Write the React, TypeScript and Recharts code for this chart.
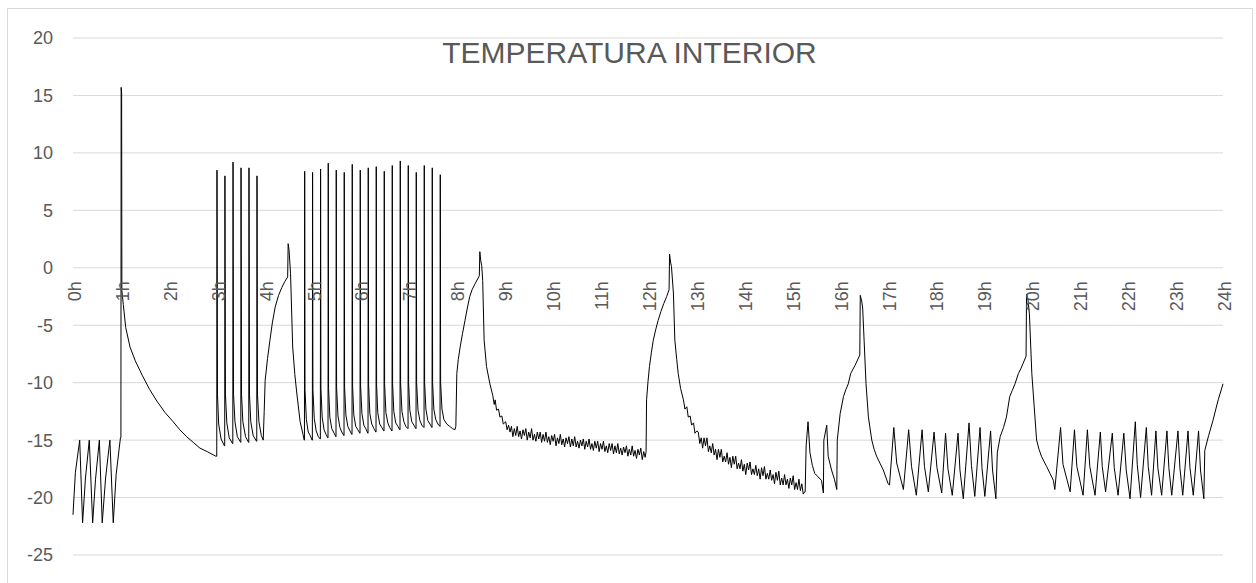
import { LineChart, Line, CartesianGrid, XAxis, YAxis } from "recharts";

type Pt = [number, number];

// hours of the day, value in °C
const nightCycles: Pt[] = [
  [0.0, -21.5], [0.05, -17.8], [0.14, -15.0], [0.2, -22.2], [0.26, -18.3], [0.34, -15.0],
  [0.41, -22.2], [0.47, -18.4], [0.55, -15.0], [0.61, -22.2], [0.68, -18.3], [0.77, -15.0],
  [0.84, -22.2], [0.9, -18.0], [0.99, -14.8],
];

const morningPeak: Pt[] = [
  [1.0, -14.8], [1.005, 15.7], [1.015, 15.2], [1.02, -2.0], [1.05, -3.2], [1.1, -5.2],
  [1.19, -6.9], [1.3, -8.1], [1.45, -9.4], [1.6, -10.6], [1.75, -11.6], [1.92, -12.6],
  [2.09, -13.4], [2.23, -14.1], [2.37, -14.7], [2.51, -15.2], [2.65, -15.7], [2.8, -16.0],
  [2.98, -16.4],
];

const firstBurst: Pt[] = [
  [3.0, -16.4], [3.005, 8.5], [3.015, -11.0], [3.04, -13.6], [3.09, -14.9], [3.16, -15.5],
  [3.166, -15.5], [3.171, 8.0], [3.181, -11.0], [3.21, -13.5], [3.26, -14.8], [3.33, -15.3],
  [3.335, -15.3], [3.34, 9.2], [3.35, -11.0], [3.38, -13.4], [3.43, -14.7], [3.5, -15.2],
  [3.502, -15.2], [3.507, 8.7], [3.517, -11.0], [3.545, -13.4], [3.6, -14.7], [3.665, -15.2],
  [3.668, -15.2], [3.673, 8.7], [3.683, -11.0], [3.71, -13.4], [3.76, -14.6], [3.83, -15.1],
  [3.835, -15.1], [3.84, 8.0], [3.85, -11.0], [3.88, -13.4], [3.93, -14.6], [3.97, -15.0],
];

const fourOClockPeak: Pt[] = [
  [3.99, -12.5], [4.01, -9.8], [4.06, -7.9], [4.11, -6.3], [4.16, -4.8], [4.22, -3.4],
  [4.29, -2.4], [4.36, -1.7], [4.42, -1.2], [4.48, -0.8], [4.49, 2.1], [4.51, 1.5],
  [4.54, -0.5], [4.585, -6.9], [4.63, -9.3], [4.67, -10.9], [4.74, -13.4], [4.8, -14.5],
  [4.825, -15.0],
];

const secondBurst: Pt[] = [
  [4.83, -15.0], [4.835, 8.4], [4.842, -10.6], [4.87, -13.2], [4.91, -14.3], [4.95, -14.6], [4.99, -15.0],
  [4.995, -15.0], [5.0, 8.3], [5.007, -10.6], [5.035, -13.1], [5.075, -14.2], [5.12, -14.7], [5.158, -14.9],
  [5.162, -14.9], [5.167, 8.6], [5.174, -10.5], [5.2, -13.0], [5.24, -14.1], [5.28, -14.5], [5.318, -14.8],
  [5.322, -14.8], [5.327, 9.1], [5.334, -10.5], [5.36, -13.0], [5.4, -14.0], [5.45, -14.4], [5.485, -14.7],
  [5.489, -14.7], [5.494, 8.5], [5.501, -10.4], [5.53, -12.9], [5.57, -13.9], [5.61, -14.3], [5.652, -14.6],
  [5.656, -14.6], [5.661, 8.3], [5.668, -10.4], [5.695, -12.8], [5.735, -13.8], [5.78, -14.2], [5.819, -14.5],
  [5.823, -14.5], [5.828, 9.0], [5.835, -10.3], [5.86, -12.8], [5.9, -13.8], [5.945, -14.1], [5.986, -14.4],
  [5.99, -14.4], [5.995, 8.5], [6.002, -10.3], [6.03, -12.7], [6.07, -13.7], [6.11, -14.0], [6.153, -14.4],
  [6.157, -14.4], [6.162, 8.7], [6.169, -10.2], [6.195, -12.7], [6.235, -13.6], [6.28, -14.0], [6.32, -14.3],
  [6.324, -14.3], [6.329, 8.8], [6.336, -10.2], [6.36, -12.6], [6.4, -13.6], [6.445, -13.9], [6.487, -14.2],
  [6.491, -14.2], [6.496, 8.4], [6.503, -10.1], [6.53, -12.6], [6.57, -13.5], [6.61, -13.9], [6.654, -14.2],
  [6.658, -14.2], [6.663, 8.9], [6.67, -10.1], [6.695, -12.5], [6.735, -13.5], [6.78, -13.8], [6.821, -14.1],
  [6.825, -14.1], [6.83, 9.3], [6.837, -10.0], [6.865, -12.5], [6.905, -13.4], [6.945, -13.8], [6.988, -14.0],
  [6.992, -14.0], [6.997, 8.9], [7.004, -10.0], [7.03, -12.4], [7.07, -13.4], [7.115, -13.7], [7.155, -14.0],
  [7.159, -14.0], [7.164, 8.3], [7.171, -10.0], [7.2, -12.4], [7.24, -13.3], [7.28, -13.7], [7.322, -13.9],
  [7.326, -13.9], [7.331, 8.9], [7.338, -10.0], [7.365, -12.3], [7.405, -13.3], [7.45, -13.6], [7.489, -13.9],
  [7.493, -13.9], [7.498, 8.7], [7.505, -10.0], [7.53, -12.3], [7.57, -13.2], [7.615, -13.6], [7.656, -13.8],
  [7.66, -13.8], [7.665, 8.1], [7.672, -10.0], [7.7, -12.3], [7.74, -13.2], [7.8, -13.6], [7.86, -13.8],
  [7.92, -14.0], [7.97, -14.1],
];

const eightOClockPeak: Pt[] = [
  [7.99, -13.8], [8.01, -9.2], [8.04, -8.0], [8.08, -6.9], [8.13, -5.7], [8.18, -4.6],
  [8.23, -3.5], [8.28, -2.5], [8.33, -1.9], [8.39, -1.4], [8.48, -0.7], [8.49, 1.4],
  [8.51, 0.6], [8.53, 0.2], [8.55, -1.1], [8.58, -6.3], [8.63, -8.6], [8.7, -10.1],
  [8.76, -11.1], [8.79, -11.9], [8.81, -11.5], [8.84, -12.4], [8.88, -12.3], [8.91, -13.0],
  [8.95, -12.9], [8.98, -13.6], [9.03, -13.4], [9.06, -14.1], [9.09, -13.7], [9.12, -14.3],
];

const morningNoise: Pt[] = [
  [9.15, -13.8], [9.18, -14.7], [9.21, -14.0], [9.24, -14.6], [9.27, -13.8], [9.3, -14.7],
  [9.33, -14.2], [9.36, -14.9], [9.39, -14.1], [9.42, -14.6], [9.45, -14.0], [9.48, -15.0],
  [9.51, -14.3], [9.54, -14.8], [9.57, -14.0], [9.6, -15.0], [9.63, -14.5], [9.66, -15.1],
  [9.69, -14.3], [9.72, -14.9], [9.75, -14.3], [9.78, -15.2], [9.81, -14.5], [9.84, -15.1],
  [9.87, -14.3], [9.9, -15.2], [9.93, -14.7], [9.96, -15.4], [9.99, -14.6], [10.02, -15.1],
  [10.05, -14.5], [10.08, -15.5], [10.11, -14.8], [10.14, -15.3], [10.17, -14.5], [10.2, -15.4],
  [10.23, -14.9], [10.26, -15.6], [10.29, -14.8], [10.32, -15.3], [10.35, -14.7], [10.38, -15.6],
  [10.41, -14.9], [10.44, -15.5], [10.47, -14.7], [10.5, -15.6], [10.53, -15.1], [10.56, -15.7],
  [10.59, -15.0], [10.62, -15.5], [10.65, -14.9], [10.68, -15.8], [10.71, -15.1], [10.74, -15.6],
  [10.77, -14.9], [10.8, -15.8], [10.83, -15.3], [10.86, -15.9], [10.89, -15.1], [10.92, -15.7],
  [10.95, -15.1], [10.98, -16.0], [11.01, -15.3], [11.04, -15.8], [11.07, -15.1], [11.1, -16.0],
  [11.13, -15.5], [11.16, -16.1], [11.19, -15.3], [11.22, -15.9], [11.25, -15.3], [11.28, -16.2],
  [11.31, -15.5], [11.34, -16.1], [11.37, -15.3], [11.4, -16.2], [11.43, -15.7], [11.46, -16.3],
  [11.49, -15.6], [11.52, -16.1], [11.55, -15.5], [11.58, -16.4], [11.61, -15.8], [11.64, -16.3],
  [11.67, -15.5], [11.7, -16.4], [11.73, -15.9], [11.76, -16.6], [11.79, -15.8], [11.82, -16.3],
  [11.85, -15.7], [11.88, -16.7], [11.91, -16.0], [11.94, -16.5],
];

const noonPeak: Pt[] = [
  [11.96, -16.0], [11.97, -11.5], [12.0, -9.9], [12.03, -8.6], [12.07, -7.4], [12.11, -6.3],
  [12.16, -5.4], [12.21, -4.6], [12.27, -3.8], [12.33, -3.1], [12.39, -2.5], [12.44, -1.9],
  [12.45, 1.2], [12.47, 0.5], [12.49, 0.1], [12.53, -2.2], [12.56, -6.3], [12.6, -8.0],
  [12.63, -9.2], [12.68, -10.5], [12.74, -11.5], [12.77, -12.3], [12.81, -12.1], [12.84, -13.0],
  [12.88, -12.9], [12.91, -13.7], [12.95, -13.5], [12.98, -14.4], [13.02, -14.2],
];

const afternoonNoise: Pt[] = [
  [13.05, -14.3], [13.08, -15.3], [13.11, -14.8], [13.14, -15.7], [13.17, -14.8], [13.2, -15.5],
  [13.23, -14.8], [13.26, -16.0], [13.29, -15.5], [13.32, -16.1], [13.35, -15.3], [13.38, -16.3],
  [13.41, -15.8], [13.44, -16.7], [13.47, -15.8], [13.5, -16.5], [13.53, -15.8], [13.56, -16.9],
  [13.59, -16.4], [13.62, -16.9], [13.65, -16.1], [13.68, -17.1], [13.71, -16.5], [13.74, -17.4],
  [13.77, -16.4], [13.8, -17.1], [13.83, -16.4], [13.86, -17.5], [13.89, -17.0], [13.92, -17.5],
  [13.95, -16.7], [13.98, -17.7], [14.01, -17.1], [14.04, -18.0], [14.07, -17.0], [14.1, -17.6],
  [14.13, -16.9], [14.16, -18.0], [14.19, -17.5], [14.22, -18.0], [14.25, -17.2], [14.28, -18.1],
  [14.31, -17.5], [14.34, -18.4], [14.37, -17.4], [14.4, -18.1], [14.43, -17.3], [14.46, -18.4],
  [14.49, -17.9], [14.52, -18.4], [14.55, -17.6], [14.58, -18.5], [14.61, -18.0], [14.64, -18.8],
  [14.67, -17.8], [14.7, -18.5], [14.73, -17.7], [14.76, -18.9], [14.79, -18.3], [14.82, -18.9],
  [14.85, -18.0], [14.88, -18.9], [14.91, -18.4], [14.94, -19.2], [14.97, -18.3], [15.0, -18.9],
  [15.03, -18.1], [15.06, -19.3], [15.09, -18.7], [15.12, -19.3], [15.15, -18.4], [15.18, -19.4],
  [15.21, -18.8], [15.24, -19.7], [15.27, -19.5],
];

const afternoonCycles: Pt[] = [
  [15.28, -19.5], [15.3, -15.5], [15.34, -13.4], [15.38, -16.1], [15.43, -17.2], [15.48, -17.9],
  [15.55, -18.2], [15.62, -18.5], [15.66, -19.6], [15.67, -15.0], [15.73, -13.7], [15.76, -16.4],
  [15.83, -17.6], [15.89, -18.4], [15.94, -19.3], [15.95, -15.0], [16.01, -12.7], [16.08, -11.2],
  [16.13, -10.6], [16.18, -10.1], [16.23, -9.2], [16.32, -8.5], [16.42, -7.6], [16.43, -2.4],
  [16.46, -2.9], [16.48, -3.5], [16.51, -6.3], [16.55, -10.1], [16.6, -13.0], [16.67, -15.0],
  [16.72, -15.8], [16.77, -16.4], [16.84, -17.0], [16.91, -17.6], [16.97, -18.3], [17.01, -18.8],
];

const eveningCycles: Pt[] = [
  [17.04, -18.9], [17.13, -13.9], [17.19, -17.0], [17.33, -19.3], [17.44, -14.1], [17.5, -17.3],
  [17.6, -19.8], [17.72, -14.1], [17.77, -17.3], [17.85, -19.5], [17.97, -14.3], [18.03, -17.4],
  [18.13, -19.6], [18.21, -14.4], [18.26, -17.5], [18.35, -19.8], [18.47, -14.4], [18.51, -17.6],
  [18.58, -20.1], [18.7, -13.5], [18.75, -17.2], [18.82, -19.9], [18.93, -13.9], [18.97, -17.4],
  [19.03, -19.9], [19.15, -14.2], [19.19, -17.6], [19.26, -20.1],
];

const eveningPeak: Pt[] = [
  [19.29, -16.1], [19.35, -14.7], [19.42, -13.9], [19.48, -13.0], [19.55, -11.2], [19.6, -10.7],
  [19.66, -10.1], [19.73, -9.2], [19.78, -8.8], [19.83, -8.3], [19.89, -7.7], [19.9, -2.3],
  [19.93, -2.8], [19.96, -4.0], [20.01, -9.2], [20.06, -12.1], [20.11, -15.0], [20.16, -15.8],
  [20.21, -16.4], [20.27, -16.9], [20.32, -17.3], [20.39, -17.9], [20.46, -18.5],
];

const lateCycles: Pt[] = [
  [20.49, -19.3], [20.61, -13.9], [20.66, -17.1], [20.81, -19.5], [20.9, -14.1], [20.95, -17.3],
  [21.08, -19.8], [21.17, -14.1], [21.22, -17.3], [21.33, -19.8], [21.44, -14.3], [21.48, -17.3],
  [21.55, -19.5], [21.69, -14.4], [21.73, -17.4], [21.81, -19.8], [21.93, -14.4], [21.98, -17.6],
  [22.06, -20.1], [22.17, -13.4], [22.21, -17.1], [22.28, -20.0], [22.4, -13.9], [22.44, -17.3],
  [22.51, -19.8], [22.6, -14.2], [22.64, -17.4], [22.72, -19.8], [22.83, -14.2], [22.87, -17.4],
  [22.93, -19.8], [23.06, -14.2], [23.1, -17.4], [23.16, -19.8], [23.27, -14.2], [23.31, -17.4],
  [23.38, -19.8], [23.49, -14.2], [23.53, -17.6], [23.6, -20.1], [23.62, -15.9], [23.7, -14.6],
  [23.79, -13.3], [23.85, -12.3], [23.9, -11.5], [24.0, -10.1],
];

const hourTicks = [0, 1, 2, 3, 4, 5, 6, 7, 8, 9, 10, 11, 12, 13, 14, 15, 16, 17, 18, 19, 20, 21, 22, 23, 24];
const tempTicks = [-25, -20, -15, -10, -5, 0, 5, 10, 15, 20];
const title = "TEMPERATURA INTERIOR";

const series = [
  ...nightCycles, ...morningPeak, ...firstBurst, ...fourOClockPeak, ...secondBurst,
  ...eightOClockPeak, ...morningNoise, ...noonPeak, ...afternoonNoise, ...afternoonCycles,
  ...eveningCycles, ...eveningPeak, ...lateCycles,
].map(([h, t]) => ({ h, t }));

const W = 1256;
const H = 583;
const margin = { top: 38, right: 33, bottom: 0, left: 0 };
const X_AXIS_H = 28;
const Y_MIN = tempTicks[0];
const Y_MAX = tempTicks[tempTicks.length - 1];
const plotH = H - margin.top - margin.bottom - X_AXIS_H;
// the hour labels sit just under the 0 line, like Excel does
const zeroY = margin.top + (plotH * Y_MAX) / (Y_MAX - Y_MIN);

const textColor = "#595959";
const font = '"Liberation Sans", Arial, sans-serif';

function HourTick(props: any) {
  const { x, payload } = props;
  const y = zeroY + 13.5;
  return (
    <text
      x={x}
      y={y}
      dy={8}
      transform={`rotate(-90, ${x}, ${y})`}
      textAnchor="end"
      fill={textColor}
      fontSize={18}
      fontFamily={font}
    >
      {`${payload.value}h`}
    </text>
  );
}

export default function App() {
  return (
    <div
      style={{
        position: "fixed",
        left: 0,
        top: 0,
        width: W,
        height: H,
        overflow: "hidden",
        background: "#fff",
        fontFamily: font,
      }}
    >
      <div
        style={{
          position: "absolute",
          left: 7,
          top: 8,
          width: 1244,
          height: 620,
          border: "1px solid #d9d9d9",
        }}
      />
      <div style={{ position: "absolute", left: 0, top: 0 }}>
        <LineChart width={W} height={H} data={series} margin={margin}>
          <CartesianGrid vertical={false} stroke="#d9d9d9" strokeWidth={1} />
          <XAxis
            dataKey="h"
            type="number"
            domain={[0, 24]}
            ticks={hourTicks}
            interval={0}
            height={X_AXIS_H}
            axisLine={false}
            tickLine={false}
            tick={(p: any) => <HourTick {...p} />}
          />
          <YAxis
            type="number"
            domain={[Y_MIN, Y_MAX]}
            ticks={tempTicks}
            interval={0}
            width={73}
            axisLine={false}
            tickLine={false}
            tickSize={0}
            tickMargin={20}
            tick={{ fill: textColor, fontSize: 18, fontFamily: font }}
          />
          <Line
            type="linear"
            dataKey="t"
            stroke="#000"
            strokeWidth={1}
            dot={false}
            activeDot={false}
            isAnimationActive={false}
          />
        </LineChart>
      </div>
      <div
        style={{
          position: "absolute",
          left: 7,
          width: 1245,
          top: 37.6,
          fontSize: 30,
          lineHeight: "30px",
          color: textColor,
          textAlign: "center",
          whiteSpace: "nowrap",
        }}
      >
        {title}
      </div>
    </div>
  );
}
